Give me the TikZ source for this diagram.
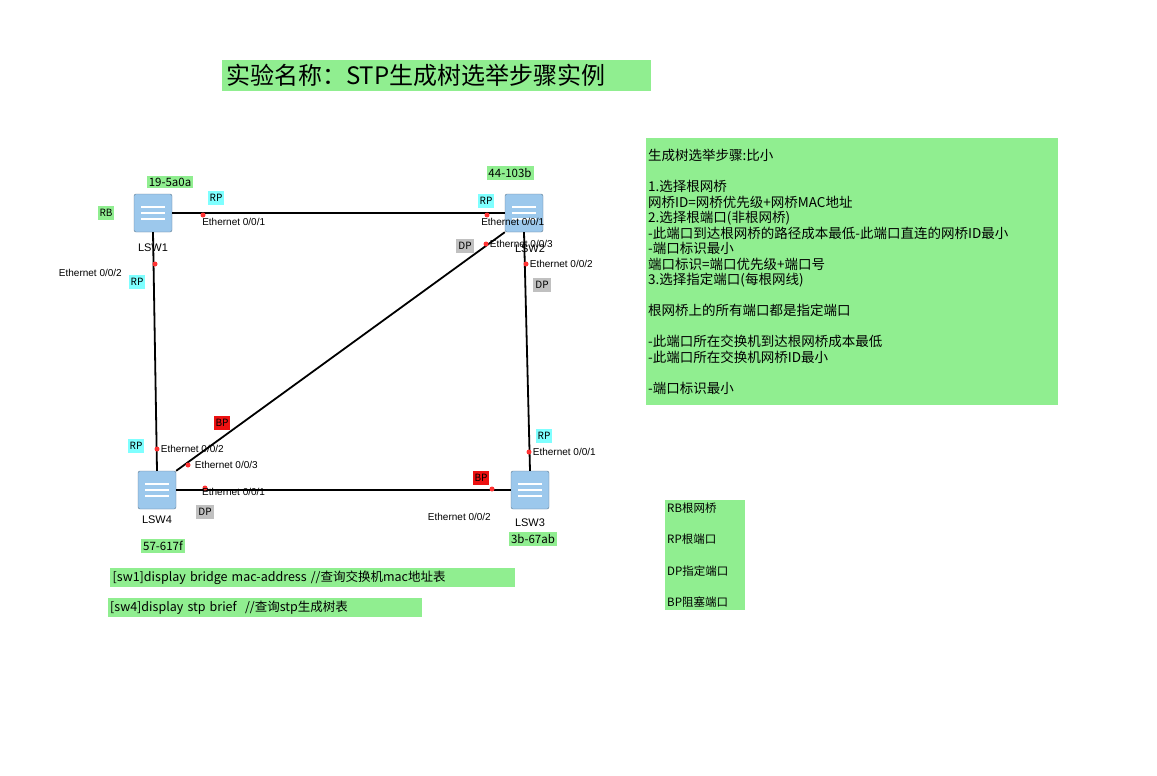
\documentclass[tikz,border=0pt]{standalone}
\usepackage{fontspec}
\setmainfont{Liberation Sans}
\newfontfamily\cjk{Noto Sans CJK SC}
\usetikzlibrary{positioning}
\definecolor{notegreen}{HTML}{90EE90}
\definecolor{rpcyan}{HTML}{7FFFFF}
\definecolor{dpgray}{HTML}{C0C0C0}
\definecolor{bpred}{HTML}{EE1111}
\definecolor{swblue}{HTML}{9CC8EC}
\tikzset{
  switchbox/.style={draw=swblue!60!black,fill=swblue,rounded corners=2pt,minimum width=38pt,minimum height=38pt,inner sep=0pt,
    path picture={\draw[white,line width=1.2pt] ([xshift=-12pt,yshift=6pt]path picture bounding box.center) -- ++(24pt,0pt)
      ([xshift=-12pt,yshift=-6pt]path picture bounding box.center) -- ++(24pt,0pt)
      ([xshift=-12pt,yshift=0pt]path picture bounding box.center) -- ++(24pt,0pt);}},
  swname/.style={font=\fontsize{11}{11}\selectfont},
  portname/.style={font=\fontsize{10}{10}\selectfont,inner sep=1pt},
  porttag/.style={font=\cjk\fontsize{10}{10}\selectfont,inner sep=2pt,minimum height=14pt},
  rp/.style={porttag,fill=rpcyan},
  dp/.style={porttag,fill=dpgray},
  bp/.style={porttag,fill=bpred},
  note/.style={fill=notegreen,font=\cjk\fontsize{11.5}{11.5}\selectfont,inner sep=2pt},
  dot/.style={circle,fill=red!80,inner sep=0pt,minimum size=5pt},
  link/.style={line width=1.8pt}
}
\begin{document}
\begin{tikzpicture}[x=1pt,y=-1pt]
  \useasboundingbox (0,0) rectangle (1157,776);
  % switches
  \node[switchbox] (sw1) at (153,213) {};
  \node[switchbox] (sw2) at (524,213) {};
  \node[switchbox] (sw3) at (530,490) {};
  \node[switchbox] (sw4) at (157,490) {};
  \node[swname] (n1) at (153,248) {LSW1};
  \node[swname] (n2) at (530,249) {LSW2};
  \node[swname] (n3) at (530,523) {LSW3};
  \node[swname] (n4) at (157,520) {LSW4};
  % links
  \draw[link] (sw1.east) -- (sw2.west);
  \draw[link] (sw1.south) -- (sw4.north);
  \draw[link] (sw2.south west) -- (sw4.north east);
  \draw[link] (sw2.south) -- (sw3.north);
  \draw[link] (sw4.east) -- (sw3.west);
  % ports
  \node[dot] (p11) at (203,215) {};
  \node[dot] (p12) at (155,264) {};
  \node[dot] (p21) at (487,215) {};
  \node[dot] (p23) at (486,244) {};
  \node[dot] (p22) at (526,264) {};
  \node[dot] (p31) at (529,452) {};
  \node[dot] (p32) at (492,489) {};
  \node[dot] (p42) at (157,449) {};
  \node[dot] (p43) at (188,465) {};
  \node[dot] (p41) at (205,488) {};
  \node[portname,anchor=north west] at (p11.south west) {Ethernet 0/0/1};
  \node[portname,anchor=east] at (123,273) {Ethernet 0/0/2};
  \node[portname,anchor=north west] at ([xshift=-5pt]p21.south west) {Ethernet 0/0/1};
  \node[portname,anchor=west] at (p23.east) {Ethernet 0/0/3};
  \node[portname,anchor=west] at (p22.east) {Ethernet 0/0/2};
  \node[portname,anchor=west] at (p31.east) {Ethernet 0/0/1};
  \node[portname,anchor=east] at (492,517) {Ethernet 0/0/2};
  \node[portname,anchor=west] at (p42.east) {Ethernet 0/0/2};
  \node[portname,anchor=west] at ([xshift=3pt]p43.east) {Ethernet 0/0/3};
  \node[portname,anchor=west] at (201,492) {Ethernet 0/0/1};
  % port roles
  \node[note,porttag] (rb) at (106,213) {RB};
  \node[rp] (t11) at (216,198) {RP};
  \node[rp] (t12) at (137,282) {RP};
  \node[rp] (t21) at (486,201) {RP};
  \node[dp] (t23) at (465,246) {DP};
  \node[dp] (t22) at (542,285) {DP};
  \node[rp] (t31) at (544,436) {RP};
  \node[bp] (t32) at (481,478) {BP};
  \node[rp] (t42) at (136,446) {RP};
  \node[bp] (t43) at (222,423) {BP};
  \node[dp] (t41) at (205,512) {DP};
  % bridge MACs
  \node[note] (m1) at (170,182) {19-5a0a};
  \node[note] (m2) at (510,173) {44-103b};
  \node[note] (m3) at (533,539) {3b-67ab};
  \node[note] (m4) at (163,546) {57-617f};
  % title
  \node[note,font=\cjk\fontsize{24}{24}\selectfont,minimum width=429pt,minimum height=31pt,inner sep=0pt,text width=421pt] (title) at (436.5,75.5) {实验名称：STP生成树选举步骤实例};
  % steps
  \node[note,anchor=north west,minimum width=412pt,minimum height=267pt,text width=408pt,inner sep=2pt,align=left,
    font=\cjk\fontsize{13.5}{15.5}\selectfont] (steps) at (646,138) {%
    生成树选举步骤:比小\\[15.5pt]
    1.选择根网桥\\
    网桥ID=网桥优先级+网桥MAC地址\\
    2.选择根端口(非根网桥)\\
    -此端口到达根网桥的路径成本最低-此端口直连的网桥ID最小\\
    -端口标识最小\\
    端口标识=端口优先级+端口号\\
    3.选择指定端口(每根网线)\\[15.5pt]
    根网桥上的所有端口都是指定端口\\[15.5pt]
    -此端口所在交换机到达根网桥成本最低\\
    -此端口所在交换机网桥ID最小\\[15.5pt]
    -端口标识最小};
  % legend
  \node[note,anchor=north west,minimum width=80pt,minimum height=110pt,text width=76pt,align=left,
    font=\cjk\fontsize{11.5}{31.5}\selectfont] (legend) at (665,500) {RB根网桥\\RP根端口\\DP指定端口\\BP阻塞端口};
  % commands
  \node[note,anchor=north west,minimum width=405pt,minimum height=19pt,text width=400pt,align=left,font=\cjk\fontsize{12.5}{12.5}\selectfont] (cmd1) at (110,568) {[sw1]display bridge mac-address //查询交换机mac地址表};
  \node[note,anchor=north west,minimum width=314pt,minimum height=19pt,text width=310pt,align=left,font=\cjk\fontsize{12.5}{12.5}\selectfont] (cmd2) at (108,598) {[sw4]display stp brief~~//查询stp生成树表};
\end{tikzpicture}
\end{document}
